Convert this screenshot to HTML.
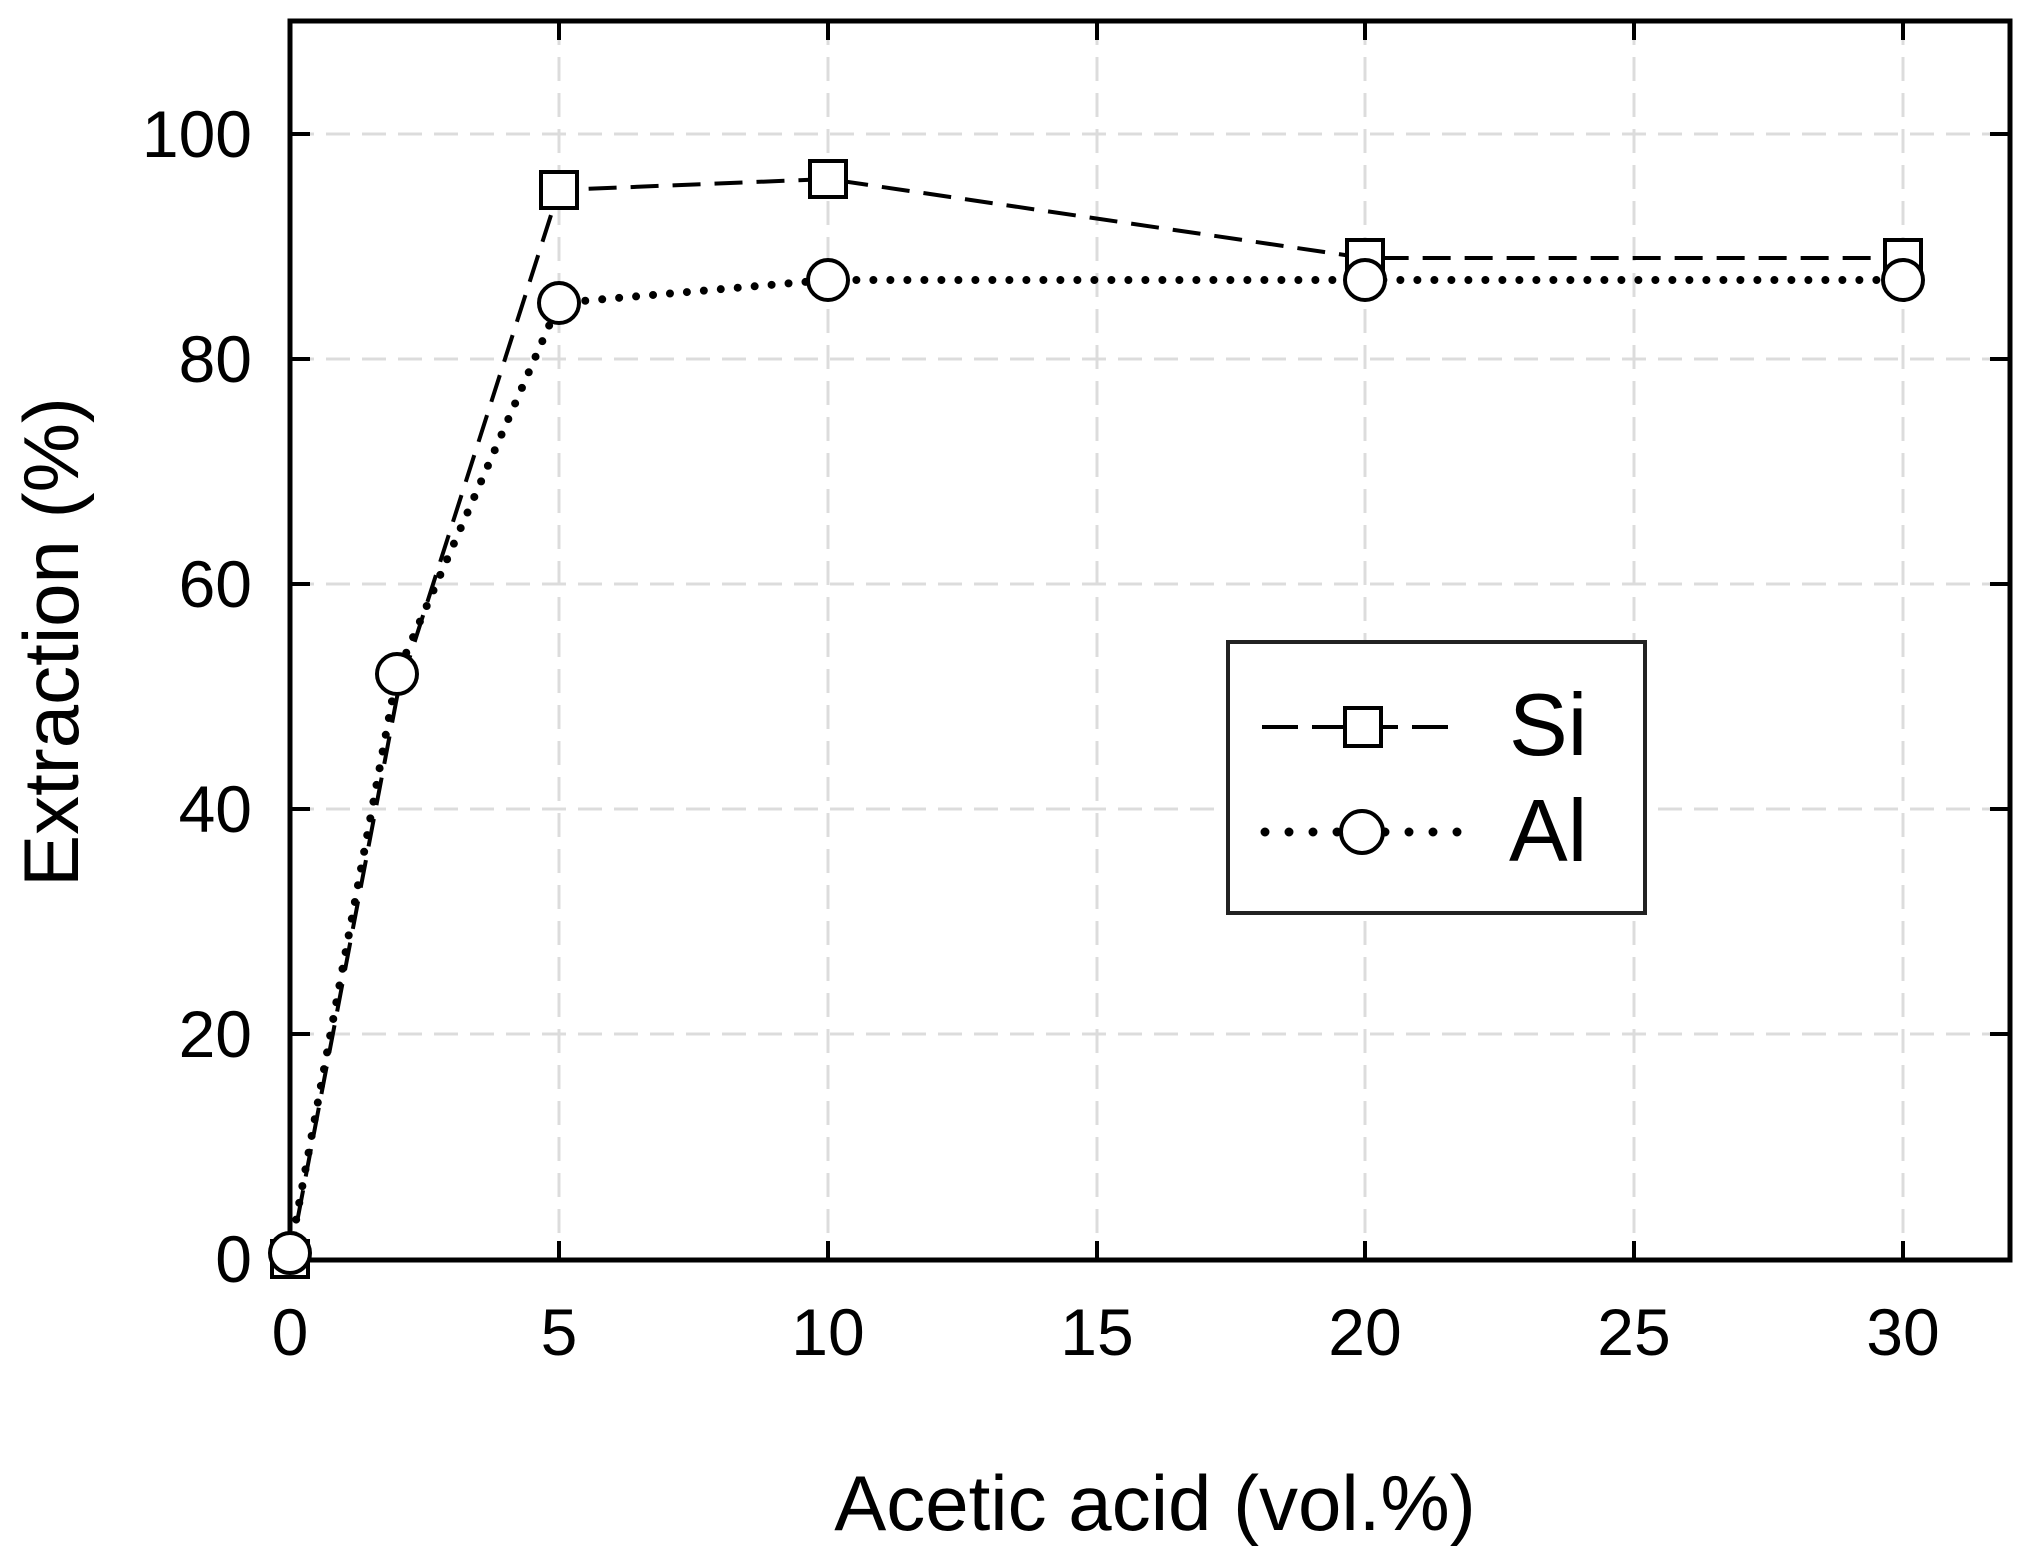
<!DOCTYPE html>
<html><head><style>html,body{margin:0;padding:0;background:#fff}</style></head>
<body>
<svg width="2040" height="1553" xmlns="http://www.w3.org/2000/svg" font-family="Liberation Sans, Arial, sans-serif">
<rect width="2040" height="1553" fill="#fff"/>
<g stroke="#dcdcdc" stroke-width="3" stroke-dasharray="24,12">
<line x1="559" y1="21" x2="559" y2="1260"/><line x1="828" y1="21" x2="828" y2="1260"/>
<line x1="1097" y1="21" x2="1097" y2="1260"/><line x1="1365" y1="21" x2="1365" y2="1260"/>
<line x1="1634" y1="21" x2="1634" y2="1260"/><line x1="1903" y1="21" x2="1903" y2="1260"/>
<line x1="290" y1="134" x2="2010" y2="134"/><line x1="290" y1="359" x2="2010" y2="359"/>
<line x1="290" y1="584" x2="2010" y2="584"/><line x1="290" y1="809" x2="2010" y2="809"/>
<line x1="290" y1="1034" x2="2010" y2="1034"/>
</g>
<g stroke="#000" stroke-width="4">
<line x1="559" y1="21" x2="559" y2="40"/><line x1="828" y1="21" x2="828" y2="40"/><line x1="1097" y1="21" x2="1097" y2="40"/><line x1="1365" y1="21" x2="1365" y2="40"/><line x1="1634" y1="21" x2="1634" y2="40"/><line x1="1903" y1="21" x2="1903" y2="40"/>
<line x1="559" y1="1260" x2="559" y2="1241"/><line x1="828" y1="1260" x2="828" y2="1241"/><line x1="1097" y1="1260" x2="1097" y2="1241"/><line x1="1365" y1="1260" x2="1365" y2="1241"/><line x1="1634" y1="1260" x2="1634" y2="1241"/><line x1="1903" y1="1260" x2="1903" y2="1241"/>
<line x1="290" y1="134" x2="310" y2="134"/><line x1="290" y1="359" x2="310" y2="359"/><line x1="290" y1="584" x2="310" y2="584"/><line x1="290" y1="809" x2="310" y2="809"/><line x1="290" y1="1034" x2="310" y2="1034"/>
<line x1="2010" y1="134" x2="1990" y2="134"/><line x1="2010" y1="359" x2="1990" y2="359"/><line x1="2010" y1="584" x2="1990" y2="584"/><line x1="2010" y1="809" x2="1990" y2="809"/><line x1="2010" y1="1034" x2="1990" y2="1034"/>
</g>
<rect x="290" y="21" width="1720" height="1239" fill="none" stroke="#000" stroke-width="5"/>
<polyline points="290,1259 397,697 559,190 828,179 1365,258 1903,258" fill="none" stroke="#000" stroke-width="4" stroke-dasharray="28,14"/>
<polyline points="290,1253 397,674 559,303 828,280 1365,280 1903,280" fill="none" stroke="#000" stroke-width="8" stroke-dasharray="0,17" stroke-linecap="round"/>
<g fill="#fff" stroke="#000" stroke-width="4">
<rect x="272" y="1241" width="36" height="36"/>
<rect x="541" y="172" width="36" height="36"/><rect x="810" y="161" width="36" height="36"/>
<rect x="1347" y="240" width="36" height="36"/><rect x="1885" y="240" width="36" height="36"/>
<circle cx="290" cy="1253" r="20"/><circle cx="397" cy="674" r="20"/><circle cx="559" cy="303" r="20"/>
<circle cx="828" cy="280" r="20"/><circle cx="1365" cy="280" r="20"/><circle cx="1903" cy="280" r="20"/>
</g>
<rect x="1228" y="642" width="417" height="271" fill="#fff" stroke="#222" stroke-width="4"/>
<line x1="1262" y1="727" x2="1462" y2="727" stroke="#000" stroke-width="4" stroke-dasharray="36,14"/>
<rect x="1345" y="708" width="36" height="38" fill="#fff" stroke="#000" stroke-width="4"/>
<line x1="1265" y1="832" x2="1465" y2="832" stroke="#000" stroke-width="9" stroke-dasharray="0,24" stroke-linecap="round"/>
<circle cx="1362" cy="832" r="21" fill="#fff" stroke="#000" stroke-width="4"/>
<text x="1509" y="755" font-size="88">Si</text>
<text x="1509" y="861" font-size="88">Al</text>
<g font-size="66" text-anchor="end">
<text x="252" y="157">100</text><text x="252" y="382">80</text><text x="252" y="607">60</text>
<text x="252" y="832">40</text><text x="252" y="1057">20</text><text x="252" y="1282">0</text>
</g>
<g font-size="66" text-anchor="middle">
<text x="290" y="1355">0</text><text x="559" y="1355">5</text><text x="828" y="1355">10</text>
<text x="1097" y="1355">15</text><text x="1365" y="1355">20</text><text x="1634" y="1355">25</text><text x="1903" y="1355">30</text>
<text x="1155" y="1530" font-size="78">Acetic acid (vol.%)</text>
<text transform="translate(78,642) rotate(-90)" font-size="78">Extraction (%)</text>
</g>
</svg>
</body></html>
